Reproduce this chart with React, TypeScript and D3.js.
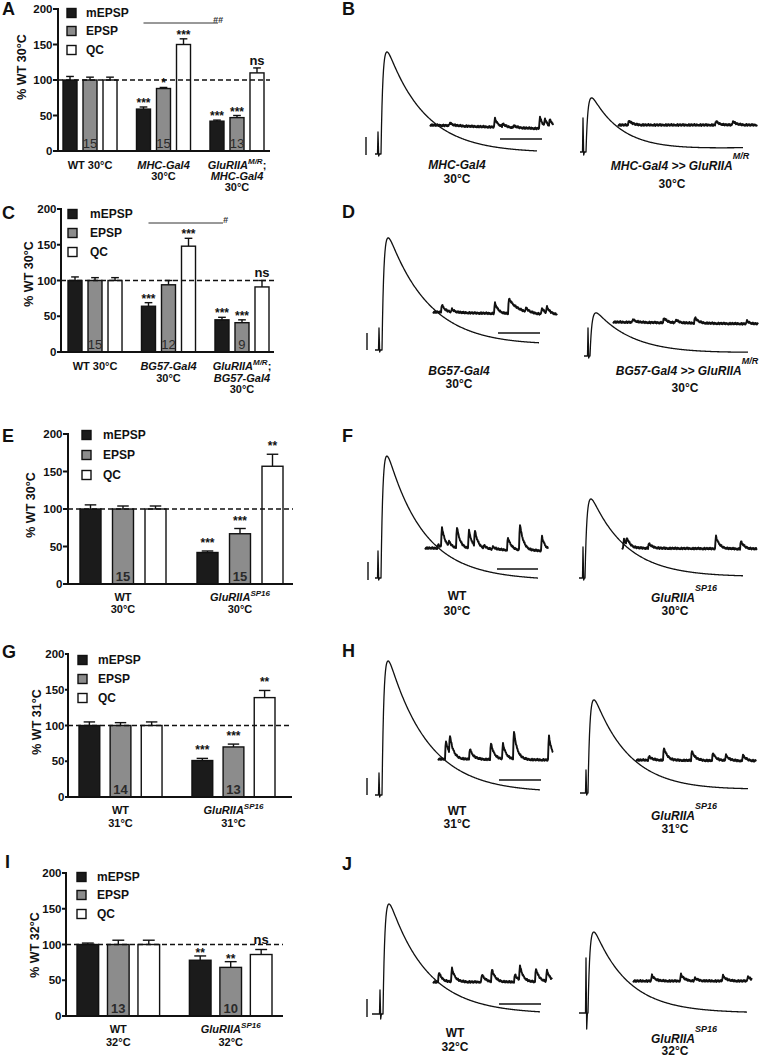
import React from "react";
import * as d3 from "d3";

const FONT = "'Liberation Sans', Arial, Helvetica, sans-serif";
const SERIES = ["mEPSP", "EPSP", "QC"];
const FILLS = ["#1b1b1b", "#8c8c8c", "#ffffff"];
const Y_TICKS = [0, 50, 100, 150, 200];

// ---------- Panel A ----------
const A_GROUPS = ["WT 30°C", "*MHC-Gal4*|30°C", "*GluRIIA^M/R^*;|*MHC-Gal4*|30°C"];
const A_MEPSP = [100, 59, 42];
const A_MEPSP_ERR = [5, 3, 1.5];
const A_EPSP = [100, 88, 47];
const A_EPSP_ERR = [4, 1.5, 3];
const A_QC = [100, 150, 110];
const A_QC_ERR = [4, 8, 7];
const A_N = ["15", "15", "13"];
const A_SIG = [["", "", ""], ["***", "*", "***"], ["***", "***", "ns"]];
const A_BRACKET = "##";
const A_YLABEL = "% WT 30°C";

// ---------- Panel C ----------
const C_GROUPS = ["WT 30°C", "*BG57-Gal4*|30°C", "*GluRIIA^M/R^*;|*BG57-Gal4*|30°C"];
const C_MEPSP = [100, 64, 45];
const C_MEPSP_ERR = [5, 5, 3.5];
const C_EPSP = [100, 94, 41];
const C_EPSP_ERR = [4, 6, 4];
const C_QC = [100, 148, 91];
const C_QC_ERR = [4, 11, 9];
const C_N = ["15", "12", "9"];
const C_SIG = [["", "", ""], ["***", "", "***"], ["***", "***", "ns"]];
const C_BRACKET = "#";
const C_YLABEL = "% WT 30°C";

// ---------- Panel E ----------
const E_GROUPS = ["WT|30°C", "*GluRIIA^SP16^*|30°C"];
const E_MEPSP = [100, 42];
const E_MEPSP_ERR = [5.5, 2];
const E_EPSP = [100, 67];
const E_EPSP_ERR = [4, 7];
const E_QC = [100, 157];
const E_QC_ERR = [4, 16];
const E_N = ["15", "15"];
const E_SIG = [["", "", ""], ["***", "***", "**"]];
const E_YLABEL = "% WT 30°C";

// ---------- Panel G ----------
const G_GROUPS = ["WT|31°C", "*GluRIIA^SP16^*|31°C"];
const G_MEPSP = [100, 51];
const G_MEPSP_ERR = [5, 3];
const G_EPSP = [100, 70];
const G_EPSP_ERR = [4, 4];
const G_QC = [100, 139];
const G_QC_ERR = [5, 10];
const G_N = ["14", "13"];
const G_SIG = [["", "", ""], ["***", "***", "**"]];
const G_YLABEL = "% WT 31°C";

// ---------- Panel I ----------
const I_GROUPS = ["WT|32°C", "*GluRIIA^SP16^*|32°C"];
const I_MEPSP = [100, 78];
const I_MEPSP_ERR = [2, 6];
const I_EPSP = [100, 68];
const I_EPSP_ERR = [6, 8];
const I_QC = [100, 86];
const I_QC_ERR = [6, 7];
const I_N = ["13", "10"];
const I_SIG = [["", "", ""], ["**", "**", "ns"]];
const I_YLABEL = "% WT 32°C";

// ---------- Example traces (relative amplitudes, px-equivalent units) ----------
const B_LABELS = ["*MHC-Gal4*|30°C", "*MHC-Gal4 >> GluRIIA^M/R^*|30°C"];
const B_EPSP_AMP = [102, 54];
const B_ARTIFACT = [[22, 2], [34, 3]];
const B_DECAY = [38, 30];
const B_MINIS_LEFT = [[19, 3], [64, 9], [72, 3], [83, 2], [109, 12], [114, 8], [119, 8]];
const B_MINIS_RIGHT = [[10, 5], [97, 4], [114, 4]];

const D_LABELS = ["*BG57-Gal4*|30°C", "*BG57-Gal4 >> GluRIIA^M/R^*|30°C"];
const D_EPSP_AMP = [112, 43];
const D_ARTIFACT = [[22, 2], [28, 2]];
const D_DECAY = [42, 38];
const D_MINIS_LEFT = [[8, 8], [18, 3], [61, 11], [75, 15, 10], [92, 4], [108, 6], [113, 7]];
const D_MINIS_RIGHT = [[19, 3], [50, 5], [62, 3], [81, 6], [133, 3]];

const F_LABELS = ["WT|30°C", "*GluRIIA^SP16^*|30°C"];
const F_EPSP_AMP = [122, 79];
const F_ARTIFACT = [[27, 2], [31, 2]];
const F_DECAY = [36, 36];
const F_MINIS_LEFT = [[12, 4], [16, 21], [23, 5], [31, 22], [43, 19], [49, 16], [58, 3], [67, 3], [82, 13], [94, 27], [116, 15]];
const F_MINIS_RIGHT = [[1, 9], [4, 7], [26, 5], [93, 13], [118, 8]];

const H_LABELS = ["WT|31°C", "*GluRIIA^SP16^*|31°C"];
const H_EPSP_AMP = [134, 93];
const H_ARTIFACT = [[22, 2], [23, 2]];
const H_DECAY = [40, 36];
const H_MINIS_LEFT = [[7, 19], [11, 19], [31, 11], [52, 17], [64, 16], [75, 29], [110, 25]];
const H_MINIS_RIGHT = [[12, 4], [27, 13], [55, 10], [76, 8], [89, 6], [106, 6]];

const J_LABELS = ["WT|32°C", "*GluRIIA^SP16^*|32°C"];
const J_EPSP_AMP = [110, 81];
const J_ARTIFACT = [[24, 5], [55, 16]];
const J_DECAY = [38, 34];
const J_MINIS_LEFT = [[5, 10], [18, 14], [48, 8], [58, 13], [81, 8], [86, 15], [102, 14], [113, 12]];
const J_MINIS_RIGHT = [[18, 6], [47, 7], [61, 3], [89, 6], [114, 5]];

const NOISE = [0, 0.8, -0.3, 0.6, -0.9, 0.2, 0.9, -0.5, 0.1, -0.8, 0.5, -0.2, 0.7, -0.6, 0.3, -1, 0.4, -0.1, 0.8, -0.7, 0.2, -0.4, 0.6];

// ---------- tables built from the arrays ----------
const mk = (groups, m, me, e, ee, q, qe, n, sig, ylabel, bracket?) => ({
  groups,
  values: [m, e, q],
  errs: [me, ee, qe],
  n,
  sig,
  ylabel,
  bracket,
});
const BAR_DATA = {
  A: mk(A_GROUPS, A_MEPSP, A_MEPSP_ERR, A_EPSP, A_EPSP_ERR, A_QC, A_QC_ERR, A_N, A_SIG, A_YLABEL, A_BRACKET),
  C: mk(C_GROUPS, C_MEPSP, C_MEPSP_ERR, C_EPSP, C_EPSP_ERR, C_QC, C_QC_ERR, C_N, C_SIG, C_YLABEL, C_BRACKET),
  E: mk(E_GROUPS, E_MEPSP, E_MEPSP_ERR, E_EPSP, E_EPSP_ERR, E_QC, E_QC_ERR, E_N, E_SIG, E_YLABEL),
  G: mk(G_GROUPS, G_MEPSP, G_MEPSP_ERR, G_EPSP, G_EPSP_ERR, G_QC, G_QC_ERR, G_N, G_SIG, G_YLABEL),
  I: mk(I_GROUPS, I_MEPSP, I_MEPSP_ERR, I_EPSP, I_EPSP_ERR, I_QC, I_QC_ERR, I_N, I_SIG, I_YLABEL),
};

// ---------- layout ----------
const BAR_LAYOUT = {
  A: { letter: [2, 15], axisX: 58, y0: 151, y200: 9, xEnd: 270, gStart: 63, gEnd: 264, sPad: 0.3, legX: 67, legY: [13, 31, 50], legTX: 86, ylab: [22, 67], tickGap: 5, labelY: 169, lineH: 11, starGap: 0, nsGap: 3, bracketY: 23, nBold: false },
  C: { letter: [2, 219], axisX: 61, y0: 352, y200: 209, xEnd: 274, gStart: 68, gEnd: 269, sPad: 0.3, legX: 68, legY: [214, 233, 252], legTX: 90, ylab: [29, 274], tickGap: 4, labelY: 370, lineH: 11.5, starGap: 0, nsGap: 4, bracketY: 223, nBold: false },
  E: { letter: [2, 442], axisX: 68, y0: 584, y200: 434, xEnd: 293, gStart: 80, gEnd: 283, sPad: 0.354, legX: 82, legY: [435, 455, 475], legTX: 103, ylab: [31, 505], tickGap: 5, labelY: 601, lineH: 12, starGap: 4, nsGap: 4, bracketY: 0, nBold: true },
  G: { letter: [2, 658], axisX: 68, y0: 797, y200: 654, xEnd: 292, gStart: 79, gEnd: 275, sPad: 0.333, legX: 78, legY: [660, 679, 698], legTX: 98, ylab: [37, 722], tickGap: 3, labelY: 814, lineH: 12.5, starGap: 4, nsGap: 4, bracketY: 0, nBold: true },
  I: { letter: [5, 868], axisX: 66, y0: 1016, y200: 873, xEnd: 283, gStart: 77, gEnd: 272, sPad: 0.29, legX: 77, legY: [877, 895, 914], legTX: 97, ylab: [35, 945], tickGap: 4, labelY: 1033, lineH: 13, starGap: -1, nsGap: 6, bracketY: 0, nBold: true },
};

const TRACE_DATA = {
  B: { labels: B_LABELS, amp: B_EPSP_AMP, art: B_ARTIFACT, tau: B_DECAY, minis: [B_MINIS_LEFT, B_MINIS_RIGHT] },
  D: { labels: D_LABELS, amp: D_EPSP_AMP, art: D_ARTIFACT, tau: D_DECAY, minis: [D_MINIS_LEFT, D_MINIS_RIGHT] },
  F: { labels: F_LABELS, amp: F_EPSP_AMP, art: F_ARTIFACT, tau: F_DECAY, minis: [F_MINIS_LEFT, F_MINIS_RIGHT] },
  H: { labels: H_LABELS, amp: H_EPSP_AMP, art: H_ARTIFACT, tau: H_DECAY, minis: [H_MINIS_LEFT, H_MINIS_RIGHT] },
  J: { labels: J_LABELS, amp: J_EPSP_AMP, art: J_ARTIFACT, tau: J_DECAY, minis: [J_MINIS_LEFT, J_MINIS_RIGHT] },
};

const TRACE_LAYOUT = {
  B: {
    letter: [342, 15],
    sides: [
      { x0: 375, base: 154, artX: 378, onset: 381, end: 537, endY: 153, mx0: 430, mx1: 553, mb0: 125, mb1: 129 },
      { x0: 580, base: 152, artX: 583, onset: 586, end: 743, endY: 148, mx0: 618, mx1: 757, mb0: 125, mb1: 125 },
    ],
    vbar: [366, 137, 155], hbar: [500, 542, 139],
    lab: [{ x: 457, y: 169, lh: 14, dx2: 0 }, { x: 680, y: 170, lh: 18, dx2: -8 }],
  },
  D: {
    letter: [342, 218],
    sides: [
      { x0: 375, base: 350, artX: 379, onset: 382, end: 539, endY: 346, mx0: 433, mx1: 557, mb0: 312, mb1: 315 },
      { x0: 584, base: 356, artX: 588, onset: 590, end: 748, endY: 353, mx0: 613, mx1: 758, mb0: 322, mb1: 324 },
    ],
    vbar: [367, 333, 350], hbar: [498, 540, 333],
    lab: [{ x: 459, y: 375, lh: 13, dx2: 0 }, { x: 687, y: 375, lh: 17, dx2: -2 }],
  },
  F: {
    letter: [342, 442],
    sides: [
      { x0: 375, base: 578, artX: 378, onset: 381, end: 538, endY: 580, mx0: 425, mx1: 548, mb0: 548, mb1: 551 },
      { x0: 579, base: 578, artX: 583, onset: 585, end: 743, endY: 577, mx0: 622, mx1: 757, mb0: 548, mb1: 549 },
    ],
    vbar: [368, 562, 580], hbar: [497, 538, 569],
    lab: [{ x: 457, y: 600, lh: 15, dx2: 0 }, { x: 684, y: 602, lh: 13, dx2: -9 }],
  },
  H: {
    letter: [342, 657],
    sides: [
      { x0: 375, base: 795, artX: 379, onset: 382, end: 540, endY: 793, mx0: 438, mx1: 553, mb0: 759, mb1: 760 },
      { x0: 580, base: 793, artX: 586, onset: 588, end: 748, endY: 790, mx0: 636, mx1: 756, mb0: 760, mb1: 761 },
    ],
    vbar: [367, 778, 795], hbar: [499, 541, 780],
    lab: [{ x: 457, y: 815, lh: 13, dx2: 0 }, { x: 684, y: 820, lh: 13, dx2: -9 }],
  },
  J: {
    letter: [342, 870],
    sides: [
      { x0: 372, base: 1014, artX: 380, onset: 383, end: 540, endY: 1014, mx0: 433, mx1: 552, mb0: 982, mb1: 982 },
      { x0: 579, base: 1013, artX: 586, onset: 588, end: 747, endY: 1013, mx0: 633, mx1: 752, mb0: 981, mb1: 981 },
    ],
    vbar: [367, 999, 1017], hbar: [499, 541, 1004],
    lab: [{ x: 455, y: 1037, lh: 14, dx2: 0 }, { x: 684, y: 1043, lh: 12, dx2: -9 }],
  },
};

// ---------- rich text ----------
type Seg = { t: string; i: boolean; s: boolean };
function parseRich(str: string): Seg[] {
  const out: Seg[] = [];
  let it = false, sp = false, cur = "";
  for (const ch of str) {
    if (ch === "*" || ch === "^") {
      if (cur) out.push({ t: cur, i: it, s: sp });
      cur = "";
      if (ch === "*") it = !it;
      else sp = !sp;
    } else cur += ch;
  }
  if (cur) out.push({ t: cur, i: it, s: sp });
  return out;
}

function Rich({ x, y, str, size, supSize, supDy }) {
  const segs = parseRich(str);
  let inSup = false;
  return (
    <text x={x} y={y} textAnchor="middle" fontSize={size} fontWeight="bold" fontFamily={FONT} fill="#111">
      {segs.map((sg, k) => {
        let dy: number | undefined;
        if (sg.s && !inSup) { dy = -supDy; inSup = true; }
        else if (!sg.s && inSup) { dy = supDy; inSup = false; }
        return (
          <tspan key={k} dy={dy} fontStyle={sg.i ? "italic" : "normal"} fontSize={sg.s ? supSize : size}>
            {sg.t}
          </tspan>
        );
      })}
    </text>
  );
}

// ---------- bar panel ----------
function BarPanel({ id }) {
  const d = BAR_DATA[id];
  const L = BAR_LAYOUT[id];
  const y = d3.scaleLinear().domain([0, 200]).range([L.y0, L.y200]);
  const idx = d.groups.map((_, i) => i);
  const gx = d3.scaleBand<number>().domain(idx).range([L.gStart, L.gEnd]).paddingInner(0.265).paddingOuter(0);
  const sx = d3.scaleBand<number>().domain([0, 1, 2]).range([0, gx.bandwidth()]).paddingInner(L.sPad).paddingOuter(0);
  const bw = sx.bandwidth();
  const cap = bw * 0.55;
  const stroke = "#111";
  return (
    <g fontFamily={FONT}>
      <text x={L.letter[0]} y={L.letter[1]} fontSize={18} fontWeight="bold" fill="#111">{id}</text>
      <text transform={`translate(${L.ylab[0]},${L.ylab[1]}) rotate(-90)`} textAnchor="middle" dominantBaseline="central" fontSize={12.5} fontWeight="bold" fill="#111">
        {d.ylabel}
      </text>
      {idx.map((gi) => (
        <g key={gi}>
          {SERIES.map((_, si) => {
            const v = d.values[si][gi];
            const e = d.errs[si][gi];
            const x = gx(gi)! + sx(si)!;
            const cx = x + bw / 2;
            const top = y(v + e);
            const sig = d.sig[gi][si];
            return (
              <g key={si}>
                <line x1={cx} x2={cx} y1={y(v)} y2={top} stroke={stroke} strokeWidth={1.4} />
                <line x1={cx - cap / 2} x2={cx + cap / 2} y1={top} y2={top} stroke={stroke} strokeWidth={1.4} />
                <rect x={x} y={y(v)} width={bw} height={y(0) - y(v)} fill={FILLS[si]} stroke={stroke} strokeWidth={1.4} />
                {sig && (
                  <text x={cx} y={top - (sig === "ns" ? L.nsGap : L.starGap)} textAnchor="middle" fontSize={sig === "ns" ? 13 : 12} fontWeight="bold" fill="#111">
                    {sig}
                  </text>
                )}
                {si === 1 && (
                  <text x={cx} y={L.y0 - 3} textAnchor="middle" fontSize={13} fontWeight={L.nBold ? "bold" : "normal"} fill="#2a2a2a">
                    {d.n[gi]}
                  </text>
                )}
              </g>
            );
          })}
          {d.groups[gi].split("|").map((ln, li) => (
            <Rich key={li} x={gx(gi)! + gx.bandwidth() / 2} y={L.labelY + li * L.lineH} str={ln} size={11} supSize={8} supDy={5} />
          ))}
        </g>
      ))}
      <line x1={L.axisX} x2={L.xEnd} y1={y(100)} y2={y(100)} stroke="#111" strokeWidth={1.6} strokeDasharray="5,3" />
      <line x1={L.axisX} x2={L.axisX} y1={y(200) - 1} y2={y(0)} stroke="#111" strokeWidth={2} />
      <line x1={L.axisX} x2={L.xEnd} y1={y(0)} y2={y(0)} stroke="#111" strokeWidth={2} />
      {Y_TICKS.map((t) => (
        <g key={t}>
          <line x1={L.axisX - L.tickGap} x2={L.axisX} y1={y(t)} y2={y(t)} stroke="#111" strokeWidth={2} />
          <text x={L.axisX - L.tickGap - 0.5} y={y(t)} dy="0.36em" textAnchor="end" fontSize={11.5} fontWeight="bold" fill="#111">{t}</text>
        </g>
      ))}
      {d.bracket && (() => {
        const x1 = gx(1)! + sx(0)! + bw / 2;
        const x2 = gx(2)! + sx(0)! + bw / 2;
        return (
          <g>
            <line x1={x1} x2={x2 + 1} y1={L.bracketY} y2={L.bracketY} stroke="#333" strokeWidth={1} />
            <text x={x2 + 6} y={L.bracketY - 0.5} textAnchor="end" fontSize={9} fontStyle="italic" fontWeight="bold" fill="#333">{d.bracket}</text>
          </g>
        );
      })()}
      {SERIES.map((s, si) => (
        <g key={s}>
          <rect x={L.legX} y={L.legY[si] - 4.5} width={9} height={9} fill={FILLS[si]} stroke="#111" strokeWidth={1.4} />
          <text x={L.legTX} y={L.legY[si]} dy="0.36em" fontSize={12} fontWeight="bold" fill="#111">{s}</text>
        </g>
      ))}
    </g>
  );
}

// ---------- traces ----------
function EpspTrace({ L, amp, art, tau }) {
  const dur = L.end - L.onset;
  const xs = d3.scaleLinear().domain([0, dur]).range([L.onset, L.end]);
  const ys = d3.scaleLinear().domain([0, 1]).range([0, -amp]);
  const tr = 1.9;
  const f = (t: number) => Math.exp(-t / tau) - Math.exp(-t / tr);
  const tp = ((tr * tau) / (tau - tr)) * Math.log(tau / tr);
  const fp = f(tp);
  const pts: [number, number][] = [
    [L.x0, L.base],
    [L.artX - 0.5, L.base],
    [L.artX, L.base - art[0]],
    [L.artX + 0.7, L.base + art[1]],
    [L.artX + 1.4, L.base],
  ];
  for (let t = 0; t <= dur + 0.01; t += 0.5) {
    const b = L.base + (L.endY - L.base) * (t / dur);
    pts.push([xs(t), b + ys(f(t) / fp)]);
  }
  return <path d={d3.line()(pts) || ""} fill="none" stroke="#111" strokeWidth={1.3} strokeLinejoin="round" />;
}

function MiniTrace({ L, events }) {
  const len = L.mx1 - L.mx0;
  const xs = d3.scaleLinear().domain([0, len]).range([L.mx0, L.mx1]);
  const pts: [number, number][] = [];
  let k = 0;
  for (let t = 0; t <= len + 0.01; t += 0.5, k++) {
    let v = 0;
    for (const ev of events) {
      const t0 = ev[0], a = ev[1], te = ev[2] || 3.5;
      const dt = t - t0;
      if (dt >= 0) v += dt < 0.8 ? (a * dt) / 0.8 : a * Math.exp(-(dt - 0.8) / te);
    }
    const b = L.mb0 + ((L.mb1 - L.mb0) * t) / len;
    pts.push([xs(t), b - v + NOISE[k % NOISE.length] * 1.0]);
  }
  return <path d={d3.line()(pts) || ""} fill="none" stroke="#111" strokeWidth={1.9} strokeLinejoin="round" />;
}

function TracePanel({ id }) {
  const d = TRACE_DATA[id];
  const L = TRACE_LAYOUT[id];
  return (
    <g fontFamily={FONT}>
      <text x={L.letter[0]} y={L.letter[1]} fontSize={18} fontWeight="bold" fill="#111">{id}</text>
      {L.sides.map((s, i) => (
        <g key={i}>
          <EpspTrace L={s} amp={d.amp[i]} art={d.art[i]} tau={d.tau[i]} />
          <MiniTrace L={s} events={d.minis[i]} />
          {d.labels[i].split("|").map((ln, li) => (
            <Rich key={li} x={L.lab[i].x + (li === 1 ? L.lab[i].dx2 : 0)} y={L.lab[i].y + li * L.lab[i].lh} str={ln} size={12} supSize={9} supDy={11} />
          ))}
        </g>
      ))}
      <line x1={L.vbar[0]} x2={L.vbar[0]} y1={L.vbar[1]} y2={L.vbar[2]} stroke="#111" strokeWidth={1.4} />
      <line x1={L.hbar[0]} x2={L.hbar[1]} y1={L.hbar[2]} y2={L.hbar[2]} stroke="#111" strokeWidth={1.4} />
    </g>
  );
}

export default function App() {
  return (
    <svg width={760} height={1058} viewBox="0 0 760 1058" style={{ position: "absolute", left: 0, top: 0, background: "#fff" }}>
      <rect width={760} height={1058} fill="#fff" />
      {["A", "C", "E", "G", "I"].map((id) => (
        <BarPanel key={id} id={id} />
      ))}
      {["B", "D", "F", "H", "J"].map((id) => (
        <TracePanel key={id} id={id} />
      ))}
    </svg>
  );
}
